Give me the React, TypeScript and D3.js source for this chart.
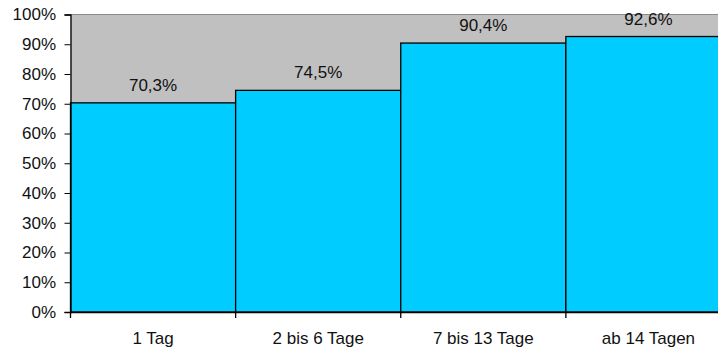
import React, { useRef, useEffect } from "react";
import * as d3 from "d3";

const categories = ["1 Tag", "2 bis 6 Tage", "7 bis 13 Tage", "ab 14 Tagen"];
const values = [70.3, 74.5, 90.4, 92.6];
const yTicks = [0, 10, 20, 30, 40, 50, 60, 70, 80, 90, 100];

const App: React.FC = () => {
  const ref = useRef<SVGSVGElement | null>(null);

  useEffect(() => {
    if (!ref.current) return;
    const svg = d3.select(ref.current);
    svg.selectAll("*").remove();

    const width = 718;
    const height = 351;
    const margin = { top: 14.5, right: -13, bottom: 39, left: 70.5 };
    const font = "Arial, 'Liberation Sans', sans-serif";
    const fs = 17;

    const x = d3
      .scaleBand<string>()
      .domain(categories)
      .range([margin.left, width - margin.right])
      .padding(0);

    const y = d3
      .scaleLinear()
      .domain([0, 100])
      .range([height - margin.bottom, margin.top]);

    // plot background
    svg
      .append("rect")
      .attr("x", margin.left)
      .attr("y", margin.top)
      .attr("width", width - margin.left + 5)
      .attr("height", y(0) - margin.top)
      .attr("fill", "#c0c0c0");

    svg
      .append("line")
      .attr("x1", margin.left)
      .attr("x2", width)
      .attr("y1", margin.top)
      .attr("y2", margin.top)
      .attr("stroke", "#8a8a8a")
      .attr("stroke-width", 1);

    // bars
    svg
      .append("g")
      .selectAll("rect")
      .data(values)
      .join("rect")
      .attr("x", (_, i) => x(categories[i])!)
      .attr("y", (d) => y(d))
      .attr("width", x.bandwidth())
      .attr("height", (d) => y(0) - y(d))
      .attr("fill", "#00ccff")
      .attr("stroke", "#000")
      .attr("stroke-width", 1.3);

    // value labels
    svg
      .append("g")
      .selectAll("text")
      .data(values)
      .join("text")
      .attr("x", (_, i) => x(categories[i])! + x.bandwidth() / 2)
      .attr("y", (d) => y(d) - 12)
      .attr("text-anchor", "middle")
      .attr("font-family", font)
      .attr("font-size", fs)
      .attr("fill", "#111")
      .text((d) => d.toFixed(1).replace(".", ",") + "%");

    // y axis
    const yAxis = svg
      .append("g")
      .attr("transform", `translate(${margin.left},0)`)
      .call(
        d3
          .axisLeft(y)
          .tickValues(yTicks)
          .tickSize(6)
          .tickPadding(8.5)
          .tickFormat((d) => `${d}%`)
      );
    yAxis.select(".domain").attr("stroke", "#000").attr("stroke-width", 1.3);
    yAxis
      .selectAll("text")
      .attr("font-family", font)
      .attr("font-size", fs)
      .attr("fill", "#111");

    // x axis
    const xAxis = svg
      .append("g")
      .attr("transform", `translate(0,${y(0)})`)
      .call(d3.axisBottom(x).tickSize(0).tickPadding(20));
    xAxis.select(".domain").attr("stroke", "#000").attr("stroke-width", 1.3);
    xAxis
      .selectAll("text")
      .attr("font-family", font)
      .attr("font-size", fs)
      .attr("fill", "#111");

    // category boundary ticks
    svg
      .append("g")
      .selectAll("line")
      .data(categories)
      .join("line")
      .attr("x1", (d) => x(d)!)
      .attr("x2", (d) => x(d)!)
      .attr("y1", y(0))
      .attr("y2", y(0) + 6)
      .attr("stroke", "#000")
      .attr("stroke-width", 1.3);
  }, []);

  return (
    <svg
      ref={ref}
      width={718}
      height={351}
      style={{ position: "absolute", left: 0, top: 0, display: "block" }}
    />
  );
};

export default App;
